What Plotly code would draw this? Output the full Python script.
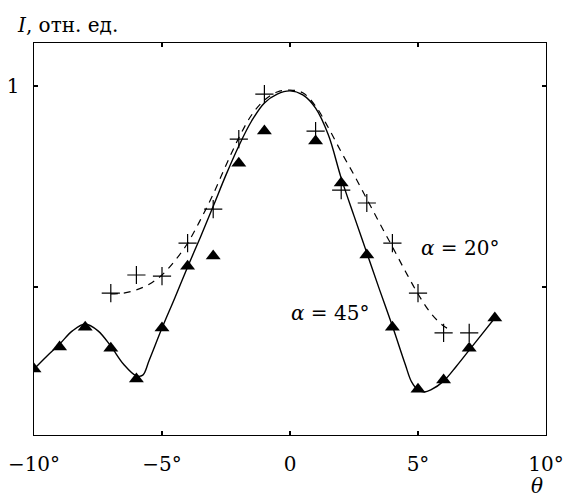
import plotly.graph_objects as go

# experimental points, alpha = 45 deg (triangles)
theta45 = [-10, -9, -8, -7, -6, -5, -4, -3, -2, -1, 1, 2, 3, 4, 5, 6, 7, 8]
I45 = [0.296, 0.351, 0.400, 0.348, 0.271, 0.398, 0.552, 0.577, 0.808, 0.888,
       0.863, 0.759, 0.580, 0.400, 0.246, 0.269, 0.348, 0.423]

# experimental points, alpha = 20 deg (crosses)
theta20 = [-7, -6, -5, -4, -3, -2, -1, 1, 2, 3, 4, 5, 6, 7]
I20 = [0.485, 0.530, 0.527, 0.609, 0.694, 0.868, 0.980,
       0.888, 0.741, 0.709, 0.609, 0.485, 0.386, 0.386]

# calculated curve, alpha = 45 deg (solid)
curve45_theta = [-10, -9.5, -9, -8.5, -8, -7.5, -7, -6.5, -6, -5.75, -5.5, -5, -4.5, -4,
                 -3.5, -3, -2.5, -2, -1.5, -1, -0.5, 0, 0.5, 1, 1.5, 2, 2.5, 3, 3.5,
                 4, 4.5, 4.75, 5, 5.25, 5.5, 6, 6.5, 7, 7.5, 8]
curve45_I = [0.296, 0.328, 0.358, 0.391, 0.408, 0.391, 0.353, 0.308, 0.279, 0.281,
             0.318, 0.398, 0.473, 0.550, 0.624, 0.701, 0.779, 0.851, 0.913, 0.958,
             0.980, 0.988, 0.978, 0.945, 0.878, 0.771, 0.677, 0.585, 0.493, 0.403,
             0.308, 0.264, 0.244, 0.239, 0.244, 0.266, 0.303, 0.343, 0.383, 0.423]

# calculated curve, alpha = 20 deg (dashed)
curve20_theta = [-7, -6.5, -6, -5.5, -5, -4.5, -4, -3.5, -3, -2.5, -2, -1.5, -1, -0.5,
                 0, 0.5, 1, 1.5, 2, 2.5, 3, 3.5, 4, 4.5, 5, 5.5, 6, 6.3]
curve20_I = [0.483, 0.485, 0.493, 0.507, 0.530, 0.565, 0.609, 0.667, 0.731, 0.803,
             0.871, 0.928, 0.965, 0.985, 0.990, 0.983, 0.950, 0.896, 0.836, 0.779,
             0.719, 0.659, 0.600, 0.540, 0.483, 0.435, 0.403, 0.393]

x_tickvals = [-10, -5, 0, 5, 10]
x_ticktext = ["\u221210\u00b0", "\u22125\u00b0", "0", "5\u00b0", "10\u00b0"]
y_tickvals = [0.5, 1]
y_ticktext = ["", "1"]
x_range = [-10, 10]
y_range = [0.132, 1.107]

FONT = "DejaVu Serif"
FS = 20

fig = go.Figure()
fig.add_trace(go.Scatter(x=curve45_theta, y=curve45_I, mode="lines",
                         line=dict(color="black", width=1.4, shape="spline", smoothing=1.0),
                         hoverinfo="skip", showlegend=False))
fig.add_trace(go.Scatter(x=curve20_theta, y=curve20_I, mode="lines",
                         line=dict(color="black", width=1.2, dash="7px,6px",
                                   shape="spline", smoothing=1.0),
                         hoverinfo="skip", showlegend=False))
fig.add_trace(go.Scatter(x=theta45, y=I45, mode="markers",
                         marker=dict(symbol="triangle-up", size=13, color="black"),
                         showlegend=False))
fig.add_trace(go.Scatter(x=theta20, y=I20, mode="markers",
                         marker=dict(symbol="cross-thin", size=13,
                                     line=dict(color="black", width=1.2)),
                         showlegend=False))

axis_common = dict(ticks="inside", tickwidth=1.2, tickcolor="black", showgrid=False,
                   zeroline=False, automargin=False)

fig.update_layout(
    template="none",
    width=564, height=497,
    margin=dict(l=34, r=18, t=43, b=62),
    paper_bgcolor="white", plot_bgcolor="white",
    font=dict(family=FONT, size=FS, color="black"),
    showlegend=False,
    xaxis=dict(range=x_range, tickmode="array", tickvals=x_tickvals, ticktext=x_ticktext,
               ticklen=4, showline=True, linecolor="black", linewidth=1.4, mirror="ticks",
               ticklabelstandoff=11, ticklabeloverflow="allow", **axis_common),
    xaxis2=dict(range=x_range, overlaying="x", side="bottom", tickmode="array", tickvals=[0],
                ticklen=7, showticklabels=False, showline=False, mirror="ticks",
                **axis_common),
    yaxis=dict(range=y_range, tickmode="array", tickvals=y_tickvals, ticktext=y_ticktext,
               ticklen=4, showline=True, linecolor="black", linewidth=1.4, mirror="ticks",
               ticklabelstandoff=9, ticklabeloverflow="allow", **axis_common),
    yaxis2=dict(range=y_range, overlaying="y", side="left", tickmode="array", tickvals=[1],
                ticklen=7, showticklabels=False, showline=False, mirror="ticks",
                **axis_common),
    annotations=[
        dict(text="<i>I</i>, отн. ед.", xref="paper", yref="paper", x=-0.037, y=1.046,
             xanchor="left", yanchor="middle", showarrow=False, font=dict(size=FS)),
        dict(text="<i>θ</i>", xref="paper", yref="paper", x=0.982, y=-0.13,
             xanchor="center", yanchor="middle", showarrow=False, font=dict(size=FS)),
        dict(text="<i>α</i> = 45°", xref="x", yref="y", x=1.56, y=0.435,
             xanchor="center", yanchor="middle", showarrow=False, font=dict(size=FS)),
        dict(text="<i>α</i> = 20°", xref="x", yref="y", x=6.64, y=0.597,
             xanchor="center", yanchor="middle", showarrow=False, font=dict(size=FS)),
    ],
)

# remove the browser's default 8px body margin so the figure fills the window exactly
fig.write_html("out.html",
               config={"displayModeBar": False, "staticPlot": True},
               post_script="document.body.style.margin='0';"
                           "document.body.style.overflow='hidden';")
